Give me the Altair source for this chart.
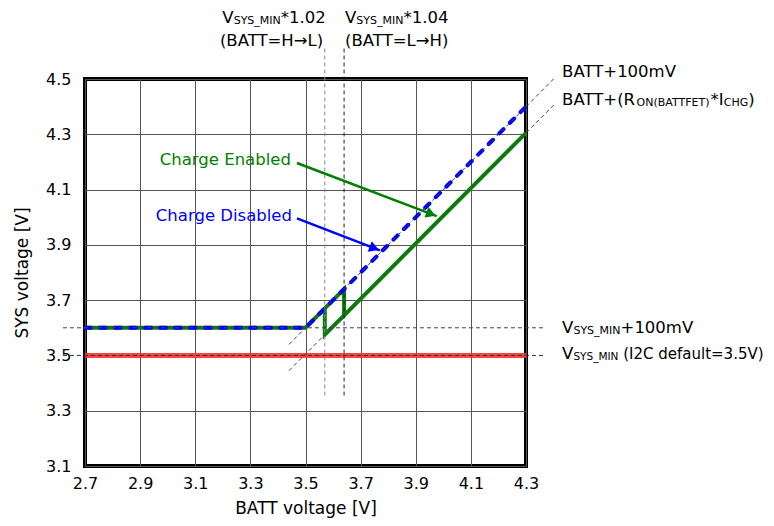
import math
import altair as alt
import pandas as pd

FONT = "DejaVu Sans"
MAIN = 16.5
SUB = 11

# ---------------- data ----------------
x_ticks = [2.7, 2.9, 3.1, 3.3, 3.5, 3.7, 3.9, 4.1, 4.3]
y_ticks = [3.1, 3.3, 3.5, 3.7, 3.9, 4.1, 4.3, 4.5]

# VSYS_MIN (red)
vsysmin_batt = [2.7, 4.3]
vsysmin_sys = [3.5, 3.5]

# Charge Disabled (blue dashed)
dis_batt = [2.7, 3.5, 4.3]
dis_sys = [3.6, 3.6, 4.4]

# Charge Enabled (green) : two path segments (hysteresis loop)
en_seg = [0, 0, 0, 0, 0, 0, 1, 1, 1]
en_batt = [2.7, 3.5, 3.57, 3.64, 3.64, 4.3, 3.57, 3.57, 3.64]
en_sys = [3.6, 3.6, 3.67, 3.74, 3.645, 4.305, 3.67, 3.575, 3.645]

# dashed guide lines (start / end)
guide_batt = [2.62, 2.62, 3.57, 3.64, 3.44, 3.44]
guide_sys = [3.6, 3.5, 3.355, 3.355, 3.54, 3.445]
guide_batt2 = [4.37, 4.37, 3.57, 3.64, 4.405, 4.405]
guide_sys2 = [3.6, 3.5, 4.61, 4.61, 4.505, 4.41]
guide_color = ["#444444", "#333333", "#888888", "#222222", "#444444", "#444444"]

# arrows
arrow_label = ["Charge Enabled", "Charge Disabled"]
arrow_color = ["#008000", "#0000ff"]
arrow_label_batt = [3.447, 3.451]
arrow_label_sys = [4.207, 4.004]
arrow_start_batt = [3.469, 3.469]
arrow_start_sys = [4.196, 3.996]
arrow_tip_batt = [3.976, 3.770]
arrow_tip_sys = [4.004, 3.880]

# ---------------- scales / axes ----------------
xs = alt.Scale(domain=[2.7, 4.3], nice=False, zero=False)
ys = alt.Scale(domain=[3.1, 4.5], nice=False, zero=False)
x_axis = alt.Axis(values=x_ticks, format=".1f", title="BATT voltage [V]", grid=True,
                  gridColor="#555555", gridWidth=1, domain=False, ticks=False,
                  labelFlush=False, labelOverlap=False,
                  labelFont=FONT, labelFontSize=16, labelColor="black", labelPadding=9,
                  titleFont=FONT, titleFontSize=17, titleFontWeight="normal",
                  titleColor="black", titlePadding=9)
y_axis = alt.Axis(values=y_ticks, format=".1f", title="SYS voltage [V]", grid=True,
                  gridColor="#555555", gridWidth=1, domain=False, ticks=False,
                  labelFlush=False, labelOverlap=False,
                  labelFont=FONT, labelFontSize=16, labelColor="black", labelPadding=14,
                  titleFont=FONT, titleFontSize=17, titleFontWeight="normal",
                  titleColor="black", titlePadding=14)


def X(f="batt"):
    return alt.X(f"{f}:Q", scale=xs, axis=x_axis)


def Y(f="sys"):
    return alt.Y(f"{f}:Q", scale=ys, axis=y_axis)


# ---------------- base layers ----------------
red = alt.Chart(pd.DataFrame({"batt": vsysmin_batt, "sys": vsysmin_sys})).mark_line(
    color="#ff3030", strokeWidth=5, opacity=0.9).encode(x=X(), y=Y())

green_df = pd.DataFrame({"batt": en_batt, "sys": en_sys, "seg": en_seg,
                         "i": list(range(len(en_batt)))})
green = alt.Chart(green_df).mark_line(color="#0a800a", strokeWidth=4, strokeJoin="miter").encode(
    x=X(), y=Y(), detail="seg:N", order="i:Q")

blue = alt.Chart(pd.DataFrame({"batt": dis_batt, "sys": dis_sys})).mark_line(
    color="#0000ff", strokeWidth=4, strokeDash=[6, 9], strokeCap="round").encode(x=X(), y=Y())

guides = alt.Chart(pd.DataFrame({"batt": guide_batt, "sys": guide_sys, "batt2": guide_batt2,
                                 "sys2": guide_sys2, "c": guide_color})).mark_rule(
    strokeWidth=1, strokeDash=[4, 3]).encode(
    x=X(), y=Y(), x2="batt2:Q", y2="sys2:Q", color=alt.Color("c:N", scale=None))

# arrows
px_per_x = 441 / 1.6
px_per_y = 387 / 1.4
angles, head_b, head_s = [], [], []
for b0, s0, b1, s1 in zip(arrow_start_batt, arrow_start_sys, arrow_tip_batt, arrow_tip_sys):
    ddx = (b1 - b0) * px_per_x
    ddy = (s1 - s0) * px_per_y
    ang = math.degrees(math.atan2(-ddy, ddx))
    angles.append(ang)
    L = math.hypot(ddx, ddy)
    back = 6.0
    head_b.append(b1 - (ddx / L) * back / px_per_x)
    head_s.append(s1 - (ddy / L) * back / px_per_y)

arrow_df = pd.DataFrame({"label": arrow_label, "c": arrow_color,
                         "batt": arrow_start_batt, "sys": arrow_start_sys,
                         "batt2": arrow_tip_batt, "sys2": arrow_tip_sys,
                         "hb": head_b, "hs": head_s, "ang": angles,
                         "lb": arrow_label_batt, "ls": arrow_label_sys})
shafts = alt.Chart(arrow_df).mark_rule(strokeWidth=2.5).encode(
    x=X(), y=Y(), x2="batt2:Q", y2="sys2:Q", color=alt.Color("c:N", scale=None))
heads = alt.Chart(arrow_df).mark_point(shape="triangle-right", filled=True, size=130, opacity=1).encode(
    x=X("hb"), y=Y("hs"), color=alt.Color("c:N", scale=None), angle=alt.Angle("ang:Q", scale=None))
arrow_text = alt.Chart(arrow_df).mark_text(align="right", baseline="middle", font=FONT,
                                           fontSize=MAIN).encode(
    x=X("lb"), y=Y("ls"), text="label:N", color=alt.Color("c:N", scale=None))

# ---------------- rich text (with subscripts) ----------------
W = {" ": 0.318, "(": 0.390, ")": 0.390, "*": 0.500, "+": 0.838, ".": 0.318, "=": 0.838,
     "0": 0.636, "1": 0.636, "2": 0.636, "3": 0.636, "4": 0.636, "5": 0.636,
     "A": 0.684, "B": 0.686, "C": 0.698, "D": 0.770, "E": 0.632, "F": 0.575, "G": 0.775,
     "H": 0.752, "I": 0.295, "L": 0.557, "M": 0.863, "N": 0.748, "O": 0.787, "R": 0.695,
     "S": 0.635, "T": 0.611, "V": 0.684, "Y": 0.611, "_": 0.500, "a": 0.613, "d": 0.635,
     "e": 0.615, "f": 0.352, "l": 0.278, "m": 0.974, "t": 0.392, "u": 0.634, "\u2192": 0.838}


def tw(s, size):
    return sum(W.get(c, 0.6) for c in s) * size


def rich(b, s, parts, anchor="left", dx0=0.0):
    # parts: (text, is_subscript, optional font size)
    parts = [(p[0], p[1], p[2] if len(p) > 2 else (SUB if p[1] else MAIN)) for p in parts]
    widths = [tw(t, size) for t, sub, size in parts]
    off = dx0 - (sum(widths) if anchor == "right" else 0)
    layers = []
    for (t, sub, size), w in zip(parts, widths):
        lead = len(t) - len(t.lstrip(" "))
        txt = t.strip(" ")
        if txt:
            layers.append(alt.Chart(pd.DataFrame({"batt": [b], "sys": [s], "t": [txt]})).mark_text(
                align="left", baseline="middle", font=FONT, fontSize=size, color="black",
                dx=off + lead * W[" "] * size, dy=3 if sub else 0).encode(
                x=X(), y=Y(), text="t:N"))
        off += w
    return layers


texts = []
# top annotations
texts += rich(3.57, 4.72, [("V", False), ("SYS_MIN", True), ("*1.02", False)], anchor="right", dx0=1)
texts += rich(3.57, 4.638, [("(BATT=H\u2192L)", False)], anchor="right", dx0=0)
texts += rich(3.64, 4.72, [("V", False), ("SYS_MIN", True), ("*1.04", False)], dx0=1)
texts += rich(3.64, 4.638, [("(BATT=L\u2192H)", False)], dx0=1)
# right annotations
texts += rich(4.431, 4.525, [("BATT+100mV", False)])
texts += rich(4.431, 4.424, [("BATT+(R", False), ("ON(BATTFET)", True), ("*I", False),
                             ("CHG", True), (")", False)])
texts += rich(4.431, 3.601, [("V", False), ("SYS_MIN", True), ("+100mV", False)])
texts += rich(4.431, 3.504, [("V", False), ("SYS_MIN", True, 10.5),
                             (" (I2C default=3.5V)", False, 15)])

chart = alt.layer(red, green, blue, guides, shafts, heads, arrow_text, *texts).properties(
    width=441, height=387,
    autosize=alt.AutoSizeParams(type="none"),
    padding={"left": 77, "top": 71, "right": 240, "bottom": 52},
).configure(background="white", view=alt.ViewConfig(stroke="black", strokeWidth=4))

chart.save("out.html", embed_options={"renderer": "svg", "actions": False})
